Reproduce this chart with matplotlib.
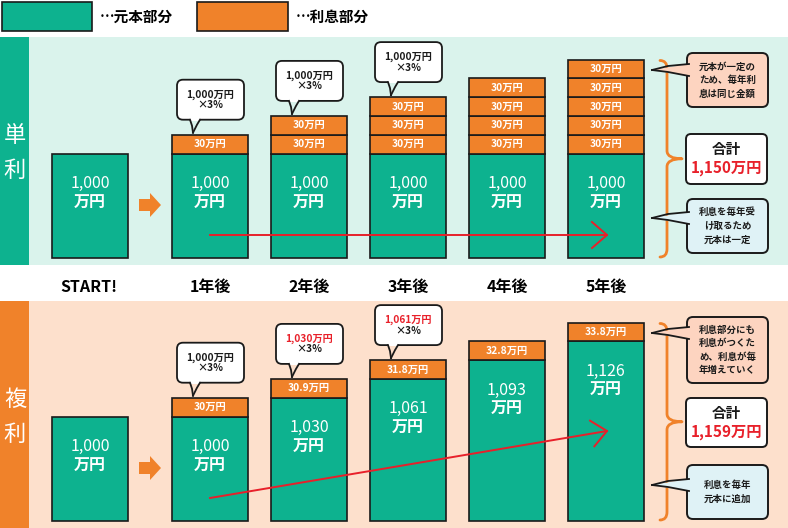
"""
Simple vs. compound interest infographic (単利 / 複利), drawn in pixel coordinates.
"""
import numpy as np
import matplotlib.pyplot as plt
from matplotlib.patches import FancyBboxPatch, Polygon, PathPatch, Rectangle
from matplotlib.path import Path

plt.rcParams['font.family'] = ['Noto Sans CJK JP', 'DejaVu Sans']

# colours
GREEN = '#0db28f'
ORANGE = '#f0822a'
MINT_BG = '#daf3ec'
PEACH_BG = '#fde0cc'
NOTE_PEACH = '#fdd4c0'
NOTE_BLUE = '#dff2f6'
RED = '#e8202a'
EDGE = '#1a1a1a'

# data
years = ['START!', '1年後', '2年後', '3年後', '4年後', '5年後']
simple_principal = [1000, 1000, 1000, 1000, 1000, 1000]
simple_interest = [[], [30], [30, 30], [30, 30, 30], [30, 30, 30, 30], [30, 30, 30, 30, 30]]
compound_principal = [1000, 1000, 1030, 1061, 1093, 1126]
compound_interest = [[], [30], [30.9], [31.8], [32.8], [33.8]]
rate_pct = 3
simple_total = 1150
compound_total = 1159
simple_notes = ['元本が一定の\nため、毎年利\n息は同じ金額', '利息を毎年受\nけ取るため\n元本は一定']
compound_notes = ['利息部分にも\n利息がつくた\nめ、利息が毎\n年増えていく', '利息を毎年\n元本に追加']

# layout (pixels)
BAR_W = 76
BASE_H = 104.5
SEG_H = 18.8
x_pos = [90] + [210 + 99 * i for i in range(5)]

fig = plt.figure(figsize=(7.88, 5.28), dpi=100)
ax = fig.add_axes([0, 0, 1, 1])
ax.set_xlim(0, 788)
ax.set_ylim(528, 0)
ax.axis('off')


def bubble(cx, bottom, line1, color1):
    x0, w, h = cx - 33, 67, 40
    ax.add_patch(FancyBboxPatch((x0, bottom - h), w, h, boxstyle='round,pad=0,rounding_size=6',
                                fc='white', ec=EDGE, lw=1.3, zorder=5))
    # tail
    tx = cx - 19
    ax.add_patch(Rectangle((tx - 1, bottom - 2), 10, 3, fc='white', ec='none', zorder=6))
    ax.plot([tx - 1, tx + 1, tx + 2], [bottom, bottom + 6, bottom + 13], color=EDGE, lw=1.3, zorder=6)
    ax.plot([tx + 2, tx + 6, tx + 9], [bottom + 13, bottom + 5, bottom], color=EDGE, lw=1.3, zorder=6)
    ax.text(cx, bottom - 25, line1, color=color1, fontsize=7.3, fontweight='bold',
            ha='center', va='center', zorder=7)
    ax.text(cx, bottom - 14.5, f'×{rate_pct}%', color=EDGE, fontsize=7.3, fontweight='bold',
            ha='center', va='center', zorder=7)


def red_arrow(x0, y0, x1, y1):
    ax.plot([x0, x1], [y0, y1], color=RED, lw=1.4, zorder=4)
    d = np.array([x1 - x0, y1 - y0], dtype=float)
    d /= np.linalg.norm(d)
    n = np.array([-d[1], d[0]])
    tip = np.array([x1, y1])
    a = tip - 15 * d + 13 * n
    b = tip - 15 * d - 13 * n
    ax.plot([a[0], x1, b[0]], [a[1], y1, b[1]], color=RED, lw=1.4, zorder=4)


def brace(x, y0, y1):
    ym = (y0 + y1) / 2
    verts = [(x - 7, y0), (x, y0), (x, y0 + 8),
             (x, ym - 8), (x, ym), (x + 15, ym), (x, ym), (x, ym + 8),
             (x, y1 - 8), (x, y1), (x - 7, y1)]
    codes = [Path.MOVETO, Path.CURVE3, Path.CURVE3,
             Path.LINETO, Path.CURVE3, Path.CURVE3, Path.CURVE3, Path.CURVE3,
             Path.LINETO, Path.CURVE3, Path.CURVE3]
    ax.add_patch(PathPatch(Path(verts, codes), fc='none', ec=ORANGE, lw=2, zorder=3,
                           capstyle='round', joinstyle='round'))


def note(y0, y1, text, fc, tail_y):
    ax.add_patch(FancyBboxPatch((687, y0), 81, y1 - y0, boxstyle='round,pad=0,rounding_size=6',
                                fc=fc, ec=EDGE, lw=1.4, zorder=5))
    ax.add_patch(Polygon([(689, tail_y - 6), (652, tail_y), (689, tail_y + 6)],
                         closed=True, fc=fc, ec='none', zorder=6))
    ax.plot([689, 668, 652], [tail_y - 6, tail_y - 4, tail_y], color=EDGE, lw=1.3, zorder=6)
    ax.plot([652, 668, 689], [tail_y, tail_y + 2, tail_y + 6], color=EDGE, lw=1.3, zorder=6)
    ax.text(727.5, (y0 + y1) / 2, text, fontsize=6.8, fontweight='bold', color=EDGE,
            ha='center', va='center', linespacing=1.45, zorder=7)


def total_box(y0, y1, total):
    ax.add_patch(FancyBboxPatch((686, y0), 81, y1 - y0, boxstyle='round,pad=0,rounding_size=5',
                                fc='white', ec=EDGE, lw=1.4, zorder=5))
    ax.text(726.5, y0 + 15, '合計', fontsize=10.5, fontweight='bold', color=EDGE,
            ha='center', va='center', zorder=7)
    ax.text(726.5, y0 + 34, f'{total:,}万円', fontsize=11, fontweight='bold', color=RED,
            ha='center', va='center', zorder=7)


def draw_panel(y_top, y_base, principal, interest, compounding, bg, strip, side_label,
               line_end_y, notes, total, note_boxes, tail_ys, total_span):
    ax.add_patch(Rectangle((0, y_top), 29, y_base + 7 - y_top, fc=strip, ec='none', zorder=0))
    ax.add_patch(Rectangle((29, y_top), 759, y_base + 7 - y_top, fc=bg, ec='none', zorder=0))
    for k, ch in enumerate(side_label):
        ax.text(15, y_top + 98 + k * 35, ch, color='white', fontsize=16, ha='center',
                va='center', zorder=2)

    rolled = 0
    tops = []
    for i, x in enumerate(x_pos):
        h = BASE_H + (SEG_H * rolled if compounding else 0)
        ax.bar(x, -h, bottom=y_base, width=BAR_W, color=GREEN, edgecolor=EDGE, linewidth=1.2, zorder=2)
        g_top = y_base - h
        ax.text(x, g_top + 30, f'{principal[i]:,}', color='white', fontsize=11.5,
                ha='center', va='center', zorder=3)
        ax.text(x, g_top + 49, '万円', color='white', fontsize=11.5, fontweight='bold',
                ha='center', va='center', zorder=3)
        seg_bottom = g_top
        for v in interest[i]:
            ax.bar(x, -SEG_H, bottom=seg_bottom, width=BAR_W, color=ORANGE, edgecolor=EDGE,
                   linewidth=1.2, zorder=2)
            ax.text(x, seg_bottom - SEG_H / 2, f'{v:g}万円', color='white', fontsize=7.4,
                    fontweight='bold', ha='center', va='center', zorder=3)
            seg_bottom -= SEG_H
        tops.append(seg_bottom)
        rolled += len(interest[i])

    for i in range(1, 4):
        p = principal[i] if compounding else simple_principal[i]
        c = RED if compounding and i > 1 else EDGE
        bubble(x_pos[i], tops[i] - 15, f'{p:,}万円', c)

    # orange block arrow
    cy = y_base - 53
    ax.add_patch(Polygon([(139, cy - 6), (150, cy - 6), (150, cy - 12), (161, cy),
                          (150, cy + 12), (150, cy + 6), (139, cy + 6)],
                         closed=True, fc=ORANGE, ec='none', zorder=2))

    red_arrow(x_pos[1], y_base - 23, 607, line_end_y)

    brace(667, tops[-1] + 1, y_base - 1)
    note(note_boxes[0][0], note_boxes[0][1], notes[0], NOTE_PEACH, tail_ys[0])
    note(note_boxes[1][0], note_boxes[1][1], notes[1], NOTE_BLUE, tail_ys[1])
    total_box(total_span[0], total_span[1], total)


# legend
ax.add_patch(Rectangle((2, 2), 90, 29, fc=GREEN, ec=EDGE, lw=1.2))
ax.text(100, 16.5, '…元本部分', fontsize=10.5, fontweight='bold', ha='left', va='center')
ax.add_patch(Rectangle((197, 2), 91, 29, fc=ORANGE, ec=EDGE, lw=1.2))
ax.text(296, 16.5, '…利息部分', fontsize=10.5, fontweight='bold', ha='left', va='center')

draw_panel(37, 258, simple_principal, simple_interest, False, MINT_BG, GREEN, '単利',
           235, simple_notes, simple_total, [(53, 107), (199, 253)], [70, 218], (134, 184))
draw_panel(301, 521, compound_principal, compound_interest, True, PEACH_BG, ORANGE, '複利',
           431, compound_notes, compound_total, [(317, 383), (465, 519)], [333, 485], (398, 447))

# year labels
for x, lab in zip(x_pos, years):
    ax.text(x - (1 if lab == 'START!' else 0), 287, lab, fontsize=11.5, fontweight='bold',
            ha='center', va='center')

fig.savefig('out.png', dpi=100)
